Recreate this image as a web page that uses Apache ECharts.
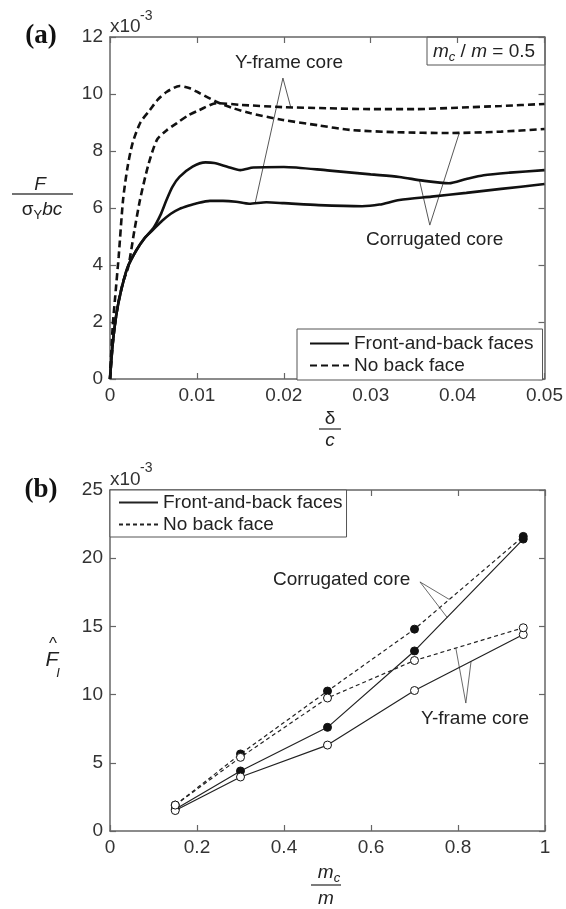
<!DOCTYPE html>
<html>
<head>
<meta charset="utf-8">
<script src="https://cdn.jsdelivr.net/npm/echarts@6/dist/echarts.min.js"></script>
<style>
html, body { margin: 0; padding: 0; background: #fff; }
#chartA { position: absolute; left: 0; top: 0; width: 566px; height: 455px; }
#chartB { position: absolute; left: 0; top: 455px; width: 566px; height: 454px; }
</style>
</head>
<body>
<div id="chartA"></div>
<div id="chartB"></div>
<script>
var FONT = '"Liberation Sans", Arial, sans-serif';
var SERIF = '"Liberation Serif", "Times New Roman", serif';

// ---- (a) F / (sigma_Y b c) vs delta / c, y values in units of 1e-3 ----
var corrFbX = [0, 0.0003, 0.0007, 0.0012, 0.002, 0.003, 0.004, 0.005, 0.0058, 0.0065, 0.0072, 0.008, 0.0095, 0.011, 0.012, 0.0135, 0.015, 0.0165, 0.02, 0.025, 0.03, 0.0333, 0.036, 0.039, 0.041, 0.043, 0.046, 0.05];
var corrFbY = [0, 1.2, 2.2, 3.0, 3.9, 4.5, 4.95, 5.3, 5.75, 6.28, 6.75, 7.09, 7.45, 7.6, 7.58, 7.45, 7.33, 7.42, 7.44, 7.32, 7.18, 7.09, 6.96, 6.87, 7.02, 7.15, 7.24, 7.33];

var yfFbX = [0, 0.0003, 0.0007, 0.0012, 0.002, 0.003, 0.004, 0.005, 0.006, 0.007, 0.008, 0.009, 0.010, 0.0115, 0.013, 0.0145, 0.016, 0.018, 0.02, 0.024, 0.029, 0.031, 0.0333, 0.037, 0.041, 0.045, 0.05];
var yfFbY = [0, 1.2, 2.2, 3.0, 3.9, 4.5, 4.95, 5.25, 5.55, 5.8, 5.97, 6.08, 6.17, 6.25, 6.25, 6.22, 6.15, 6.2, 6.17, 6.1, 6.06, 6.12, 6.28, 6.4, 6.53, 6.67, 6.84];

var corrNbX = [0, 0.0003, 0.0006, 0.001, 0.0015, 0.002, 0.0026, 0.0035, 0.0046, 0.0055, 0.0065, 0.008, 0.0092, 0.0103, 0.0123, 0.0142, 0.0161, 0.0199, 0.024, 0.0276, 0.033, 0.039, 0.045, 0.05];
var corrNbY = [0, 1.8, 2.9, 4.3, 6.28, 7.4, 8.28, 9.0, 9.44, 9.8, 10.07, 10.28, 10.2, 10.03, 9.72, 9.5, 9.33, 9.09, 8.9, 8.74, 8.66, 8.63, 8.68, 8.77];

var yfNbX = [0, 0.0004, 0.0009, 0.0015, 0.0021, 0.0028, 0.00345, 0.0044, 0.0054, 0.0065, 0.0077, 0.009, 0.0103, 0.0123, 0.015, 0.0199, 0.025, 0.03, 0.0352, 0.04, 0.045, 0.05];
var yfNbY = [0, 1.5, 2.6, 3.4, 3.93, 5.2, 6.28, 7.5, 8.39, 8.72, 8.98, 9.25, 9.44, 9.68, 9.62, 9.54, 9.5, 9.47, 9.47, 9.52, 9.58, 9.65];

// ---- (b) peak force vs m_c / m, units of 1e-3 ----
var massRatio = [0.15, 0.3, 0.5, 0.7, 0.95];
var corrFbPeak = [1.6, 4.4, 7.6, 13.2, 21.4];
var corrNbPeak = [1.9, 5.65, 10.26, 14.8, 21.6];
var yfFbPeak = [1.5, 3.96, 6.3, 10.3, 14.4];
var yfNbPeak = [1.9, 5.4, 9.75, 12.5, 14.9];

var legendNames = ['Front-and-back faces', 'No back face'];

function zip(xs, ys) {
  return xs.map(function (x, i) { return [x, ys[i]]; });
}
function interp(xs, ys, x) {
  for (var i = 1; i < xs.length; i++) {
    if (x <= xs[i]) {
      var t = (x - xs[i - 1]) / (xs[i] - xs[i - 1]);
      return ys[i - 1] + t * (ys[i] - ys[i - 1]);
    }
  }
  return ys[ys.length - 1];
}
function fmt(v) {
  return v === 0 ? '0' : String(+v.toFixed(2));
}

function frameAxes(xMin, xMax, xStep, yMin, yMax, yStep) {
  var line = { show: true, onZero: false, lineStyle: { color: '#666', width: 1.5 } };
  var tick = { show: true, inside: true, length: 6, lineStyle: { color: '#666', width: 1.2 } };
  var lab = { color: '#333', fontSize: 19, fontFamily: FONT, margin: 7, formatter: fmt };
  var common = { type: 'value', splitLine: { show: false }, axisLine: line, axisTick: tick };
  return {
    xAxis: [
      Object.assign({ min: xMin, max: xMax, interval: xStep, position: 'bottom', axisLabel: lab }, common),
      Object.assign({ min: xMin, max: xMax, interval: xStep, position: 'top', axisLabel: { show: false } }, common)
    ],
    yAxis: [
      Object.assign({ min: yMin, max: yMax, interval: yStep, position: 'left', axisLabel: lab }, common),
      Object.assign({ min: yMin, max: yMax, interval: yStep, position: 'right', axisLabel: { show: false } }, common)
    ]
  };
}

function leader(pts, w) {
  return {
    type: 'line', data: pts, symbol: 'none', silent: true, z: 1,
    lineStyle: { color: '#444', width: w }
  };
}

function legendBox(left, top, pad) {
  return {
    left: left, top: top, orient: 'vertical', data: legendNames,
    itemWidth: 39, itemHeight: 14, itemGap: 3, padding: pad,
    borderColor: '#555', borderWidth: 1, backgroundColor: '#fff',
    selectedMode: false, itemStyle: { opacity: 0 },
    textStyle: { fontSize: 19, color: '#222', fontFamily: FONT }
  };
}

// ================= chart (a) =================
var chartA = echarts.init(document.getElementById('chartA'));
var axesA = frameAxes(0, 0.05, 0.01, 0, 12, 2);
var thick = 2.6;
function curve(name, xs, ys, dashed) {
  return {
    name: name, type: 'line', data: zip(xs, ys), symbol: 'none', smooth: 0.25,
    lineStyle: { color: '#111', width: thick, type: dashed ? [7, 4] : 'solid' },
    itemStyle: { color: '#111' }
  };
}
var optionA = {
  animation: false,
  grid: { left: 110, top: 37, width: 435, height: 342 },
  xAxis: axesA.xAxis,
  yAxis: axesA.yAxis,
  legend: legendBox(297, 329, [5, 9, 5, 12]),
  series: [
    curve(legendNames[0], corrFbX, corrFbY, false),
    curve(legendNames[0], yfFbX, yfFbY, false),
    curve(legendNames[1], corrNbX, corrNbY, true),
    curve(legendNames[1], yfNbX, yfNbY, true),
    leader([[0.0167, interp(yfFbX, yfFbY, 0.0167)], [0.0199, 10.56], [0.0208, interp(yfNbX, yfNbY, 0.0208)]], 0.9),
    leader([[0.0356, interp(corrFbX, corrFbY, 0.0356)], [0.0368, 5.4], [0.0402, interp(corrNbX, corrNbY, 0.0402)]], 0.9)
  ],
  graphic: [
    { type: 'text', x: 41, y: 36, style: { text: '(a)', font: 'bold 27px ' + SERIF, fill: '#111', align: 'center', verticalAlign: 'middle' } },
    { type: 'text', x: 110, y: 27, style: { text: 'x10', font: '19px ' + FONT, fill: '#333', align: 'left', verticalAlign: 'middle' } },
    { type: 'text', x: 140, y: 16, style: { text: '-3', font: '14px ' + FONT, fill: '#333', align: 'left', verticalAlign: 'middle' } },
    { type: 'rect', shape: { x: 427, y: 37, width: 118, height: 28 }, style: { fill: '#fff', stroke: '#555', lineWidth: 1 } },
    { type: 'text', x: 433, y: 52, style: {
      rich: {
        i: { fontStyle: 'italic', fontSize: 19, fontFamily: FONT, fill: '#222' },
        s: { fontStyle: 'italic', fontSize: 13, fontFamily: FONT, fill: '#222', padding: [10, 0, 0, 0] },
        n: { fontSize: 19, fontFamily: FONT, fill: '#222' }
      },
      text: '{i|m}{s|c}{n| / }{i|m}{n| = 0.5}', align: 'left', verticalAlign: 'middle' } },
    { type: 'text', x: 235, y: 63, style: { text: 'Y-frame core', font: '19px ' + FONT, fill: '#222', align: 'left', verticalAlign: 'middle' } },
    { type: 'text', x: 366, y: 240, style: { text: 'Corrugated core', font: '19px ' + FONT, fill: '#222', align: 'left', verticalAlign: 'middle' } },
    // y axis name: F / (sigma_Y b c)
    { type: 'text', x: 40, y: 185, style: { text: 'F', font: 'italic 19px ' + FONT, fill: '#222', align: 'center', verticalAlign: 'middle' } },
    { type: 'line', shape: { x1: 12, y1: 194, x2: 73, y2: 194 }, style: { stroke: '#444', lineWidth: 1.4 } },
    { type: 'text', x: 42, y: 210, style: {
      rich: {
        n: { fontSize: 19, fontFamily: FONT, fill: '#222' },
        s: { fontSize: 13, fontFamily: FONT, fill: '#222', padding: [10, 0, 0, 0] },
        i: { fontStyle: 'italic', fontSize: 19, fontFamily: FONT, fill: '#222' }
      },
      text: '{n|σ}{s|Y}{i|bc}', align: 'center', verticalAlign: 'middle' } },
    // x axis name: delta / c
    { type: 'text', x: 330, y: 419, style: { text: 'δ', font: '19px ' + FONT, fill: '#222', align: 'center', verticalAlign: 'middle' } },
    { type: 'line', shape: { x1: 319, y1: 429, x2: 341, y2: 429 }, style: { stroke: '#444', lineWidth: 1.4 } },
    { type: 'text', x: 330, y: 441, style: { text: 'c', font: 'italic 19px ' + FONT, fill: '#222', align: 'center', verticalAlign: 'middle' } }
  ]
};
chartA.setOption(optionA);

// ================= chart (b) =================
var chartB = echarts.init(document.getElementById('chartB'));
var axesB = frameAxes(0, 1, 0.2, 0, 25, 5);
function peakSeries(name, ys, filled, dashed) {
  return {
    name: name, type: 'line', data: zip(massRatio, ys),
    symbol: 'circle', symbolSize: 8,
    lineStyle: { color: '#222', width: 1.2, type: dashed ? [4, 3] : 'solid' },
    itemStyle: { color: filled ? '#111' : '#fff', borderColor: '#111', borderWidth: 1 }
  };
}
var optionB = {
  animation: false,
  grid: { left: 110, top: 35, width: 435, height: 341 },
  xAxis: axesB.xAxis,
  yAxis: axesB.yAxis,
  legend: legendBox(110, 35, [3, 4, 3, 8]),
  series: [
    peakSeries(legendNames[0], corrFbPeak, true, false),
    peakSeries(legendNames[1], corrNbPeak, true, true),
    peakSeries(legendNames[0], yfFbPeak, false, false),
    peakSeries(legendNames[1], yfNbPeak, false, true),
    leader([[0.78, interp(massRatio, corrNbPeak, 0.78)], [0.7126, 18.26], [0.775, interp(massRatio, corrFbPeak, 0.775)]], 0.8),
    leader([[0.795, interp(massRatio, yfNbPeak, 0.795)], [0.818, 9.38], [0.83, interp(massRatio, yfFbPeak, 0.83)]], 0.8)
  ],
  graphic: [
    { type: 'text', x: 41, y: 35, style: { text: '(b)', font: 'bold 27px ' + SERIF, fill: '#111', align: 'center', verticalAlign: 'middle' } },
    { type: 'text', x: 110, y: 25, style: { text: 'x10', font: '19px ' + FONT, fill: '#333', align: 'left', verticalAlign: 'middle' } },
    { type: 'text', x: 140, y: 13, style: { text: '-3', font: '14px ' + FONT, fill: '#333', align: 'left', verticalAlign: 'middle' } },
    { type: 'text', x: 273, y: 125, style: { text: 'Corrugated core', font: '19px ' + FONT, fill: '#222', align: 'left', verticalAlign: 'middle' } },
    { type: 'text', x: 421, y: 264, style: { text: 'Y-frame core', font: '19px ' + FONT, fill: '#222', align: 'left', verticalAlign: 'middle' } },
    // y axis name: F hat, subscript I
    { type: 'text', x: 53, y: 189, style: { text: '^', font: '17px ' + FONT, fill: '#222', align: 'center', verticalAlign: 'middle' } },
    { type: 'text', x: 52, y: 205, style: { text: 'F', font: 'italic 21px ' + FONT, fill: '#222', align: 'center', verticalAlign: 'middle' } },
    { type: 'text', x: 58, y: 218, style: { text: 'I', font: 'italic 13px ' + FONT, fill: '#222', align: 'center', verticalAlign: 'middle' } },
    // x axis name: m_c / m
    { type: 'text', x: 329, y: 418, style: {
      rich: {
        i: { fontStyle: 'italic', fontSize: 19, fontFamily: FONT, fill: '#222' },
        s: { fontStyle: 'italic', fontSize: 13, fontFamily: FONT, fill: '#222', padding: [10, 0, 0, 0] }
      },
      text: '{i|m}{s|c}', align: 'center', verticalAlign: 'middle' } },
    { type: 'line', shape: { x1: 311, y1: 430, x2: 341, y2: 430 }, style: { stroke: '#444', lineWidth: 1.4 } },
    { type: 'text', x: 326, y: 444, style: { text: 'm', font: 'italic 19px ' + FONT, fill: '#222', align: 'center', verticalAlign: 'middle' } }
  ]
};
chartB.setOption(optionB);
</script>
</body>
</html>
